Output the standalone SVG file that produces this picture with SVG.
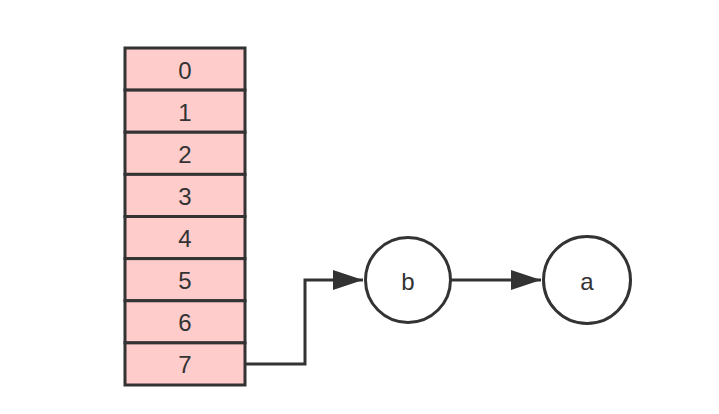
<svg xmlns="http://www.w3.org/2000/svg" width="719" height="414" viewBox="0 0 719 414">
<style>
.cell{fill:#ffcccc;stroke:#333;stroke-width:3}
.node{fill:#fff;stroke:#333;stroke-width:3}
.t{font-family:"Liberation Sans",Arial,sans-serif;font-size:24px;fill:#333;text-anchor:middle;dominant-baseline:central}
.edge{fill:none;stroke:#333;stroke-width:3}
</style>
<defs>
<marker id="arr" markerUnits="userSpaceOnUse" markerWidth="32" markerHeight="22" refX="30" refY="10" orient="auto">
<path d="M0,0 L30,10 L0,20 Z" fill="#333"/>
</marker>
</defs>
<rect width="719" height="414" fill="#fff"/>
<g id="array">
<g id="cell0"><rect class="cell" x="125" y="48" width="120" height="42.125"/><text class="t" x="185" y="70">0</text></g>
<g id="cell1"><rect class="cell" x="125" y="90.125" width="120" height="42.125"/><text class="t" x="185" y="112">1</text></g>
<g id="cell2"><rect class="cell" x="125" y="132.25" width="120" height="42.125"/><text class="t" x="185" y="154">2</text></g>
<g id="cell3"><rect class="cell" x="125" y="174.375" width="120" height="42.125"/><text class="t" x="185" y="196">3</text></g>
<g id="cell4"><rect class="cell" x="125" y="216.5" width="120" height="42.125"/><text class="t" x="185" y="238.5">4</text></g>
<g id="cell5"><rect class="cell" x="125" y="258.625" width="120" height="42.125"/><text class="t" x="185" y="280.5">5</text></g>
<g id="cell6"><rect class="cell" x="125" y="300.75" width="120" height="42.125"/><text class="t" x="185" y="322.5">6</text></g>
<g id="cell7"><rect class="cell" x="125" y="342.875" width="120" height="42.125"/><text class="t" x="185" y="364.5">7</text></g>
</g>
<g id="connectors">
<path class="edge" d="M245,364 H305 V280 H363" marker-end="url(#arr)"/>
<path class="edge" d="M451,280 H541" marker-end="url(#arr)"/>
</g>
<g id="node-b"><circle class="node" cx="408" cy="280" r="42.5"/><text class="t" x="408" y="281">b</text></g>
<g id="node-a"><circle class="node" cx="587" cy="280" r="43.5"/><text class="t" x="587" y="281">a</text></g>
</svg>
